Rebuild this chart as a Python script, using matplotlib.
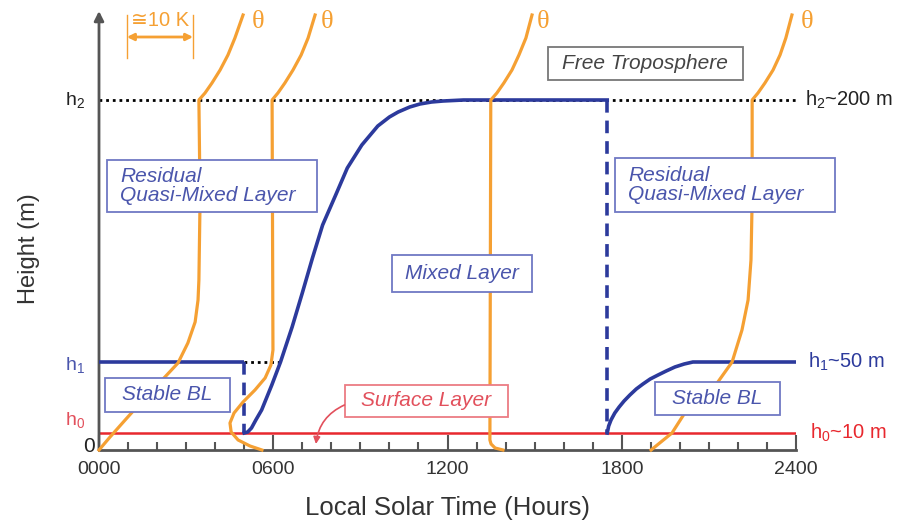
import matplotlib
matplotlib.use("Agg")
import matplotlib.pyplot as plt
from matplotlib.patches import Rectangle
import matplotlib.transforms as mtransforms

plt.rcParams["font.family"] = ["Liberation Sans", "DejaVu Sans"]
plt.rcParams["mathtext.default"] = "regular"

# ---------- colours ----------
C_ORANGE = "#F5A033"
C_BLUE = "#2C3A9C"
C_BLUE_TXT = "#4A55AC"
C_BLUE_BOX = "#7078C4"
C_RED = "#E8282E"
C_RED_TXT = "#E2505C"
C_RED_BOX = "#EC7C84"
C_GRAY = "#555555"
C_DARK = "#222222"

# ---------- schematic levels (arbitrary height units) ----------
H0, H1, H2 = 17, 88, 350
YMAX = 437

# boundary-layer top (blue)
night_t = [0, 500]
night_z = [H1, H1]
day_t = [500, 512, 525, 540, 560, 595, 625, 665, 700, 735, 770, 815, 855, 905, 960, 1000,
         1030, 1070, 1105, 1145, 1185, 1255, 1750]
day_z = [17, 18, 22, 30, 40, 65, 88, 123, 157, 192, 225, 255, 282, 305, 324, 333,
         338, 343, 346, 348, 349, 350, 350]
eve_t = [1750, 1755, 1763, 1776, 1791, 1808, 1828, 1850, 1873, 1898, 1925, 1953, 1983, 2015, 2045, 2400]
eve_z = [17, 24, 30, 37, 43, 49, 55, 61, 66, 71, 75, 79, 83, 86, 88, 88]
sunrise, sunset = 500, 1750
dotted_h1_t = [500, 625]

# potential temperature profiles (orange), x in hours of the plot
th1_t = [0, 38, 90, 158, 227, 272, 306, 331, 341, 344, 348, 344, 365, 389, 417, 444, 468, 496]
th1_z = [0, 13, 30, 52, 73, 87, 107, 128, 150, 170, 250, 350, 357, 367, 380, 395, 412, 435]
th2_t = [561, 520, 479, 455, 451, 465, 496, 537, 572, 592, 599, 596, 616, 640, 668, 696, 720, 744]
th2_z = [0, 4, 10, 18, 27, 37, 48, 60, 72, 85, 100, 350, 357, 367, 380, 395, 412, 435]
th3_t = [1391, 1364, 1350, 1346, 1349, 1370, 1394, 1422, 1446, 1470, 1491]
th3_z = [0, 2, 6, 10, 350, 357, 367, 380, 395, 412, 435]
th4_t = [1901, 1973, 2028, 2080, 2131, 2180, 2214, 2235, 2245, 2249, 2249, 2269, 2293, 2321, 2345, 2365, 2386]
th4_z = [0, 17, 42, 55, 68, 88, 120, 150, 190, 250, 350, 357, 367, 380, 395, 412, 435]
theta_label_t = [546, 787, 1529, 2438]

xticks = [0, 600, 1200, 1800, 2400]
xtick_labels = ["0000", "0600", "1200", "1800", "2400"]

# ---------- figure ----------
fig = plt.figure(figsize=(9.01, 5.26), dpi=100)
ax = fig.add_axes([99 / 901, 76 / 526, 697 / 901, 437 / 526])
ax.set_xlim(0, 2400)
ax.set_ylim(0, YMAX)

for s in ("top", "right", "left"):
    ax.spines[s].set_visible(False)
ax.spines["bottom"].set_color(C_GRAY)
ax.spines["bottom"].set_linewidth(2)
ax.set_yticks([])
ax.set_xticks(xticks)
ax.set_xticklabels(xtick_labels, fontsize=14, color="#333333")
ax.set_xticks(range(0, 2401, 100), minor=True)
ax.tick_params(axis="x", which="major", direction="in", length=11, width=1.5, color=C_GRAY, pad=8)
ax.tick_params(axis="x", which="minor", direction="in", length=5.5, width=1.5, color=C_GRAY)

# y axis with arrow
ax.annotate("", xy=(0, YMAX + 2), xytext=(0, 0), xycoords="data", annotation_clip=False,
            arrowprops=dict(arrowstyle="-|>", color=C_GRAY, lw=2, mutation_scale=14,
                            shrinkA=0, shrinkB=0))

# reference levels
ax.plot([0, 2400], [H2, H2], color="black", lw=2, ls=(0, (1, 1.4)), zorder=1)
ax.plot(dotted_h1_t, [H1, H1], color="black", lw=2, ls=(0, (1, 1.4)), zorder=1)
ax.plot([0, 2400], [H0, H0], color=C_RED, lw=1.8, zorder=2)

# boundary-layer top
ax.plot(night_t, night_z, color=C_BLUE, lw=2.6, zorder=3, solid_capstyle="butt")
ax.plot([sunrise, sunrise], [H1, H0], color=C_BLUE, lw=2.6, ls=(0, (3.5, 2.2)), zorder=3)
ax.plot(day_t, day_z, color=C_BLUE, lw=2.6, zorder=3)
ax.plot([sunset, sunset], [H2, H0], color=C_BLUE, lw=2.6, ls=(0, (3.5, 2.2)), zorder=3)
ax.plot(eve_t, eve_z, color=C_BLUE, lw=2.6, zorder=3)

# theta profiles
for tt, zz in ((th1_t, th1_z), (th2_t, th2_z), (th3_t, th3_z), (th4_t, th4_z)):
    ax.plot(tt, zz, color=C_ORANGE, lw=2.3, zorder=4, clip_on=False)
for t in theta_label_t:
    ax.text(t, 428, "θ", color=C_ORANGE, fontsize=19, family=["Liberation Serif", "DejaVu Serif"],
            ha="center", va="center", zorder=6, clip_on=False)

# 10 K scale bar
for t in (96, 324):
    ax.plot([t, t], [392, 435], color=C_ORANGE, lw=1, zorder=4, clip_on=False)
ax.annotate("", xy=(324, 413), xytext=(96, 413), annotation_clip=False,
            arrowprops=dict(arrowstyle="<|-|>", color=C_ORANGE, lw=2, mutation_scale=10,
                            shrinkA=0, shrinkB=0))
ax.text(210, 430, "≅10 K", color=C_ORANGE, fontsize=14.5, ha="center", va="center", clip_on=False)

# labelled boxes: (x0, y0, x1, y1, text, text colour, edge colour, text x, align)
boxes = [
    (28, 238, 751, 290, "Residual\nQuasi-Mixed Layer", C_BLUE_TXT, C_BLUE_BOX, 72, "left"),
    (1777, 238, 2534, 292, "Residual\nQuasi-Mixed Layer", C_BLUE_TXT, C_BLUE_BOX, 1822, "left"),
    (21, 38, 451, 72, "Stable BL", C_BLUE_TXT, C_BLUE_BOX, None, "center"),
    (1914, 35, 2345, 68, "Stable BL", C_BLUE_TXT, C_BLUE_BOX, None, "center"),
    (1009, 158, 1491, 195, "Mixed Layer", C_BLUE_TXT, C_BLUE_BOX, None, "center"),
    (847, 33, 1408, 65, "Surface Layer", C_RED_TXT, C_RED_BOX, None, "center"),
    (1546, 370, 2217, 403, "Free Troposphere", "#444444", "#777777", None, "center"),
]
for x0, y0, x1, y1, txt, tc, ec, tx, al in boxes:
    ax.add_patch(Rectangle((x0, y0), x1 - x0, y1 - y0, facecolor="white", edgecolor=ec,
                           lw=1.3, zorder=5, clip_on=False))
    xpos = (x0 + x1) / 2 if tx is None else tx
    ax.text(xpos, (y0 + y1) / 2, txt, color=tc, fontsize=15, style="italic", ha=al,
            va="center", linespacing=1.0, zorder=6, clip_on=False)

# surface layer arrow
ax.annotate("", xy=(747, 6), xytext=(845, 45), annotation_clip=False,
            arrowprops=dict(arrowstyle="-|>", color=C_RED_TXT, lw=1.2, mutation_scale=10,
                            shrinkA=0, shrinkB=0, connectionstyle="arc3,rad=0.28"), zorder=6)

# level labels
trans = mtransforms.blended_transform_factory(ax.transAxes, ax.transData)
ax.text(-0.02, H2, "h$_2$", color=C_DARK, fontsize=14, ha="right", va="center", transform=trans)
ax.text(-0.02, 85, "h$_1$", color=C_BLUE_TXT, fontsize=14, ha="right", va="center", transform=trans)
ax.text(-0.02, 30, "h$_0$", color=C_RED_TXT, fontsize=14, ha="right", va="center", transform=trans)
ax.text(-0.006, 3, "0", color=C_DARK, fontsize=15, ha="right", va="center", transform=trans)

ax.text(1.013, H2, "h$_2$~200 m", color=C_DARK, fontsize=14.5, ha="left", va="center", transform=trans)
ax.text(1.017, H1, "h$_1$~50 m", color=C_BLUE, fontsize=14.5, ha="left", va="center", transform=trans)
ax.text(1.020, H0, "h$_0$~10 m", color=C_RED, fontsize=14.5, ha="left", va="center", transform=trans)

ax.set_xlabel("Local Solar Time (Hours)", fontsize=18.5, color="#333333")
ax.xaxis.set_label_coords(0.5, -0.105)
ax.text(-0.1, 0.46, "Height (m)", rotation=90, fontsize=17, color="#333333",
        ha="center", va="center", transform=ax.transAxes)

fig.savefig("out.png", dpi=100)
